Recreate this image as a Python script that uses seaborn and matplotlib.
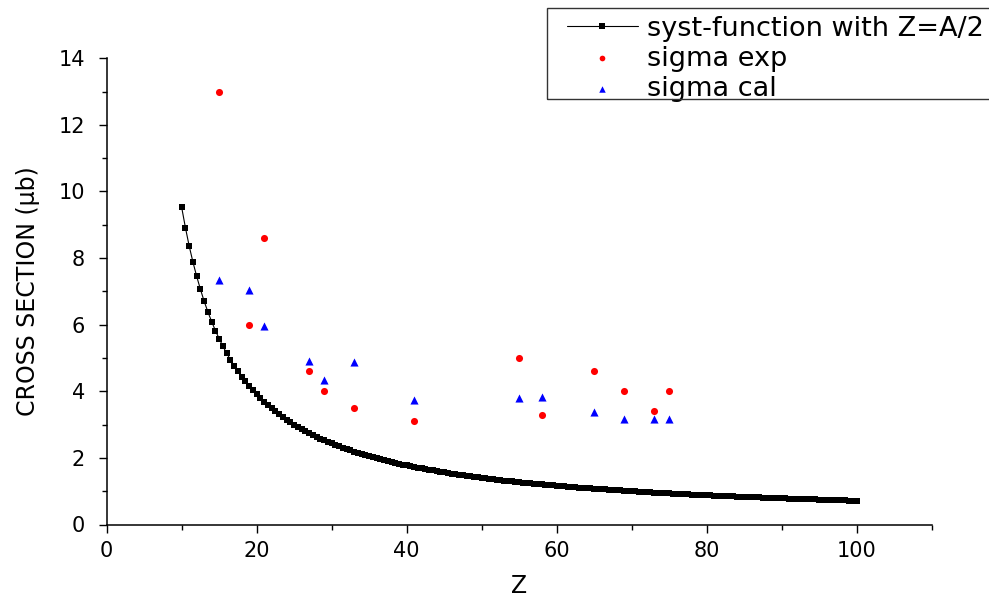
import numpy as np
import pandas as pd
import matplotlib
matplotlib.use("Agg")
import matplotlib.pyplot as plt
from matplotlib.ticker import MultipleLocator
from matplotlib.patches import Rectangle
import seaborn as sns

# ---------------- data ----------------
syst_A = list(range(20, 201))
syst_Z = [a / 2 for a in syst_A]
syst_sigma = [
    9.52, 8.91, 8.36, 7.88, 7.45, 7.06, 6.70, 6.38, 6.09, 5.82,
    5.58, 5.35, 5.14, 4.95, 4.77, 4.60, 4.44, 4.30, 4.16, 4.03,
    3.91, 3.79, 3.69, 3.58, 3.49, 3.40, 3.31, 3.23, 3.15, 3.07,
    3.00, 2.93, 2.87, 2.81, 2.75, 2.69, 2.64, 2.58, 2.53, 2.48,
    2.44, 2.39, 2.35, 2.31, 2.27, 2.23, 2.19, 2.16, 2.12, 2.09,
    2.05, 2.02, 1.99, 1.96, 1.93, 1.91, 1.88, 1.85, 1.83, 1.80,
    1.78, 1.75, 1.73, 1.71, 1.69, 1.67, 1.65, 1.63, 1.61, 1.59,
    1.57, 1.55, 1.53, 1.52, 1.50, 1.48, 1.47, 1.45, 1.44, 1.42,
    1.41, 1.39, 1.38, 1.36, 1.35, 1.34, 1.32, 1.31, 1.30, 1.29,
    1.28, 1.26, 1.25, 1.24, 1.23, 1.22, 1.21, 1.20, 1.19, 1.18,
    1.17, 1.16, 1.15, 1.14, 1.13, 1.12, 1.11, 1.10, 1.10, 1.09,
    1.08, 1.07, 1.06, 1.06, 1.05, 1.04, 1.03, 1.03, 1.02, 1.01,
    1.00, 1.00, 0.99, 0.98, 0.98, 0.97, 0.96, 0.96, 0.95, 0.95,
    0.94, 0.93, 0.93, 0.92, 0.92, 0.91, 0.90, 0.90, 0.89, 0.89,
    0.88, 0.88, 0.87, 0.87, 0.86, 0.86, 0.85, 0.85, 0.84, 0.84,
    0.83, 0.83, 0.82, 0.82, 0.82, 0.81, 0.81, 0.80, 0.80, 0.79,
    0.79, 0.79, 0.78, 0.78, 0.77, 0.77, 0.77, 0.76, 0.76, 0.76,
    0.75, 0.75, 0.74, 0.74, 0.74, 0.73, 0.73, 0.73, 0.72, 0.72,
    0.72,
]

exp_Z = [15, 19, 21, 27, 29, 33, 41, 55, 58, 65, 69, 73, 75]
exp_sigma = [13.0, 6.0, 8.6, 4.6, 4.0, 3.5, 3.1, 5.0, 3.3, 4.6, 4.0, 3.4, 4.0]

cal_Z = [15, 19, 21, 27, 29, 33, 41, 55, 58, 65, 69, 73, 75]
cal_sigma = [7.35, 7.05, 5.95, 4.9, 4.35, 4.87, 3.74, 3.81, 3.83, 3.38, 3.18, 3.18, 3.18]

labels = ["syst-function with Z=A/2", "sigma exp", "sigma cal"]
x_label = "Z"
y_label = "CROSS SECTION (\u03bcb)"

# ---------------- style ----------------
sns.set_theme(style="ticks")
plt.rcParams["font.family"] = ["DejaVu Sans"]

W, H = 989, 600
fig = plt.figure(figsize=(W / 100, H / 100), dpi=100)
ax = fig.add_axes([106.7 / W, (H - 524.5) / H, 825 / W, (524.5 - 58.3) / H])

syst_df = pd.DataFrame({"Z": syst_Z, "sigma": syst_sigma})
exp_df = pd.DataFrame({"Z": exp_Z, "sigma": exp_sigma})
cal_df = pd.DataFrame({"Z": cal_Z, "sigma": cal_sigma})

sns.lineplot(data=syst_df, x="Z", y="sigma", ax=ax, color="black", lw=0.8,
             marker="s", markersize=4.8, markeredgewidth=0, markerfacecolor="black",
             label=labels[0], estimator=None, sort=False)
sns.scatterplot(data=exp_df, x="Z", y="sigma", ax=ax, color="#ff0000", marker="o",
                s=26, linewidth=0, label=labels[1], zorder=3)
sns.scatterplot(data=cal_df, x="Z", y="sigma", ax=ax, color="#0000ff", marker="^",
                s=34, linewidth=0, label=labels[2], zorder=3)

ax.set_xlim(0, 110)
ax.set_ylim(0, 14)
ax.xaxis.set_major_locator(MultipleLocator(20))
ax.xaxis.set_minor_locator(MultipleLocator(10))
ax.yaxis.set_major_locator(MultipleLocator(2))
ax.yaxis.set_minor_locator(MultipleLocator(1))
sns.despine(ax=ax)
for sp in ("left", "bottom"):
    ax.spines[sp].set_linewidth(1.1)
    ax.spines[sp].set_color("black")

ax.tick_params(which="major", direction="out", length=5.8, width=1.0,
               colors="black", labelsize=15)
ax.tick_params(axis="x", which="major", pad=6)
ax.tick_params(axis="y", which="major", pad=10)
ax.tick_params(which="minor", direction="out", length=3.6, width=1.0, colors="black")

ax.set_xlabel(x_label, fontsize=17, color="black")
ax.set_ylabel(y_label, fontsize=17, color="black")
ax.xaxis.label.set_va("center")
ax.xaxis.set_label_coords(0.5, (524.5 - 586) / (524.5 - 58.3))
ax.yaxis.set_label_coords((40 - 106.7) / 825, 0.5)

leg = ax.legend(loc="upper left", bbox_to_anchor=(567 / W, 1 - 15.5 / H),
                bbox_transform=fig.transFigure, frameon=False, borderpad=0,
                borderaxespad=0, fontsize=19.5, handlelength=2.62,
                handletextpad=0.33, labelspacing=0.15, markerscale=0.8)
for t in leg.get_texts():
    t.set_color("black")

fig.patches.append(Rectangle((547 / W, 1 - 99 / H), (1000 - 547) / W, 91 / H,
                             transform=fig.transFigure, fill=False,
                             edgecolor="#333333", linewidth=1.0, clip_on=False))

fig.savefig("out.png", dpi=100)
